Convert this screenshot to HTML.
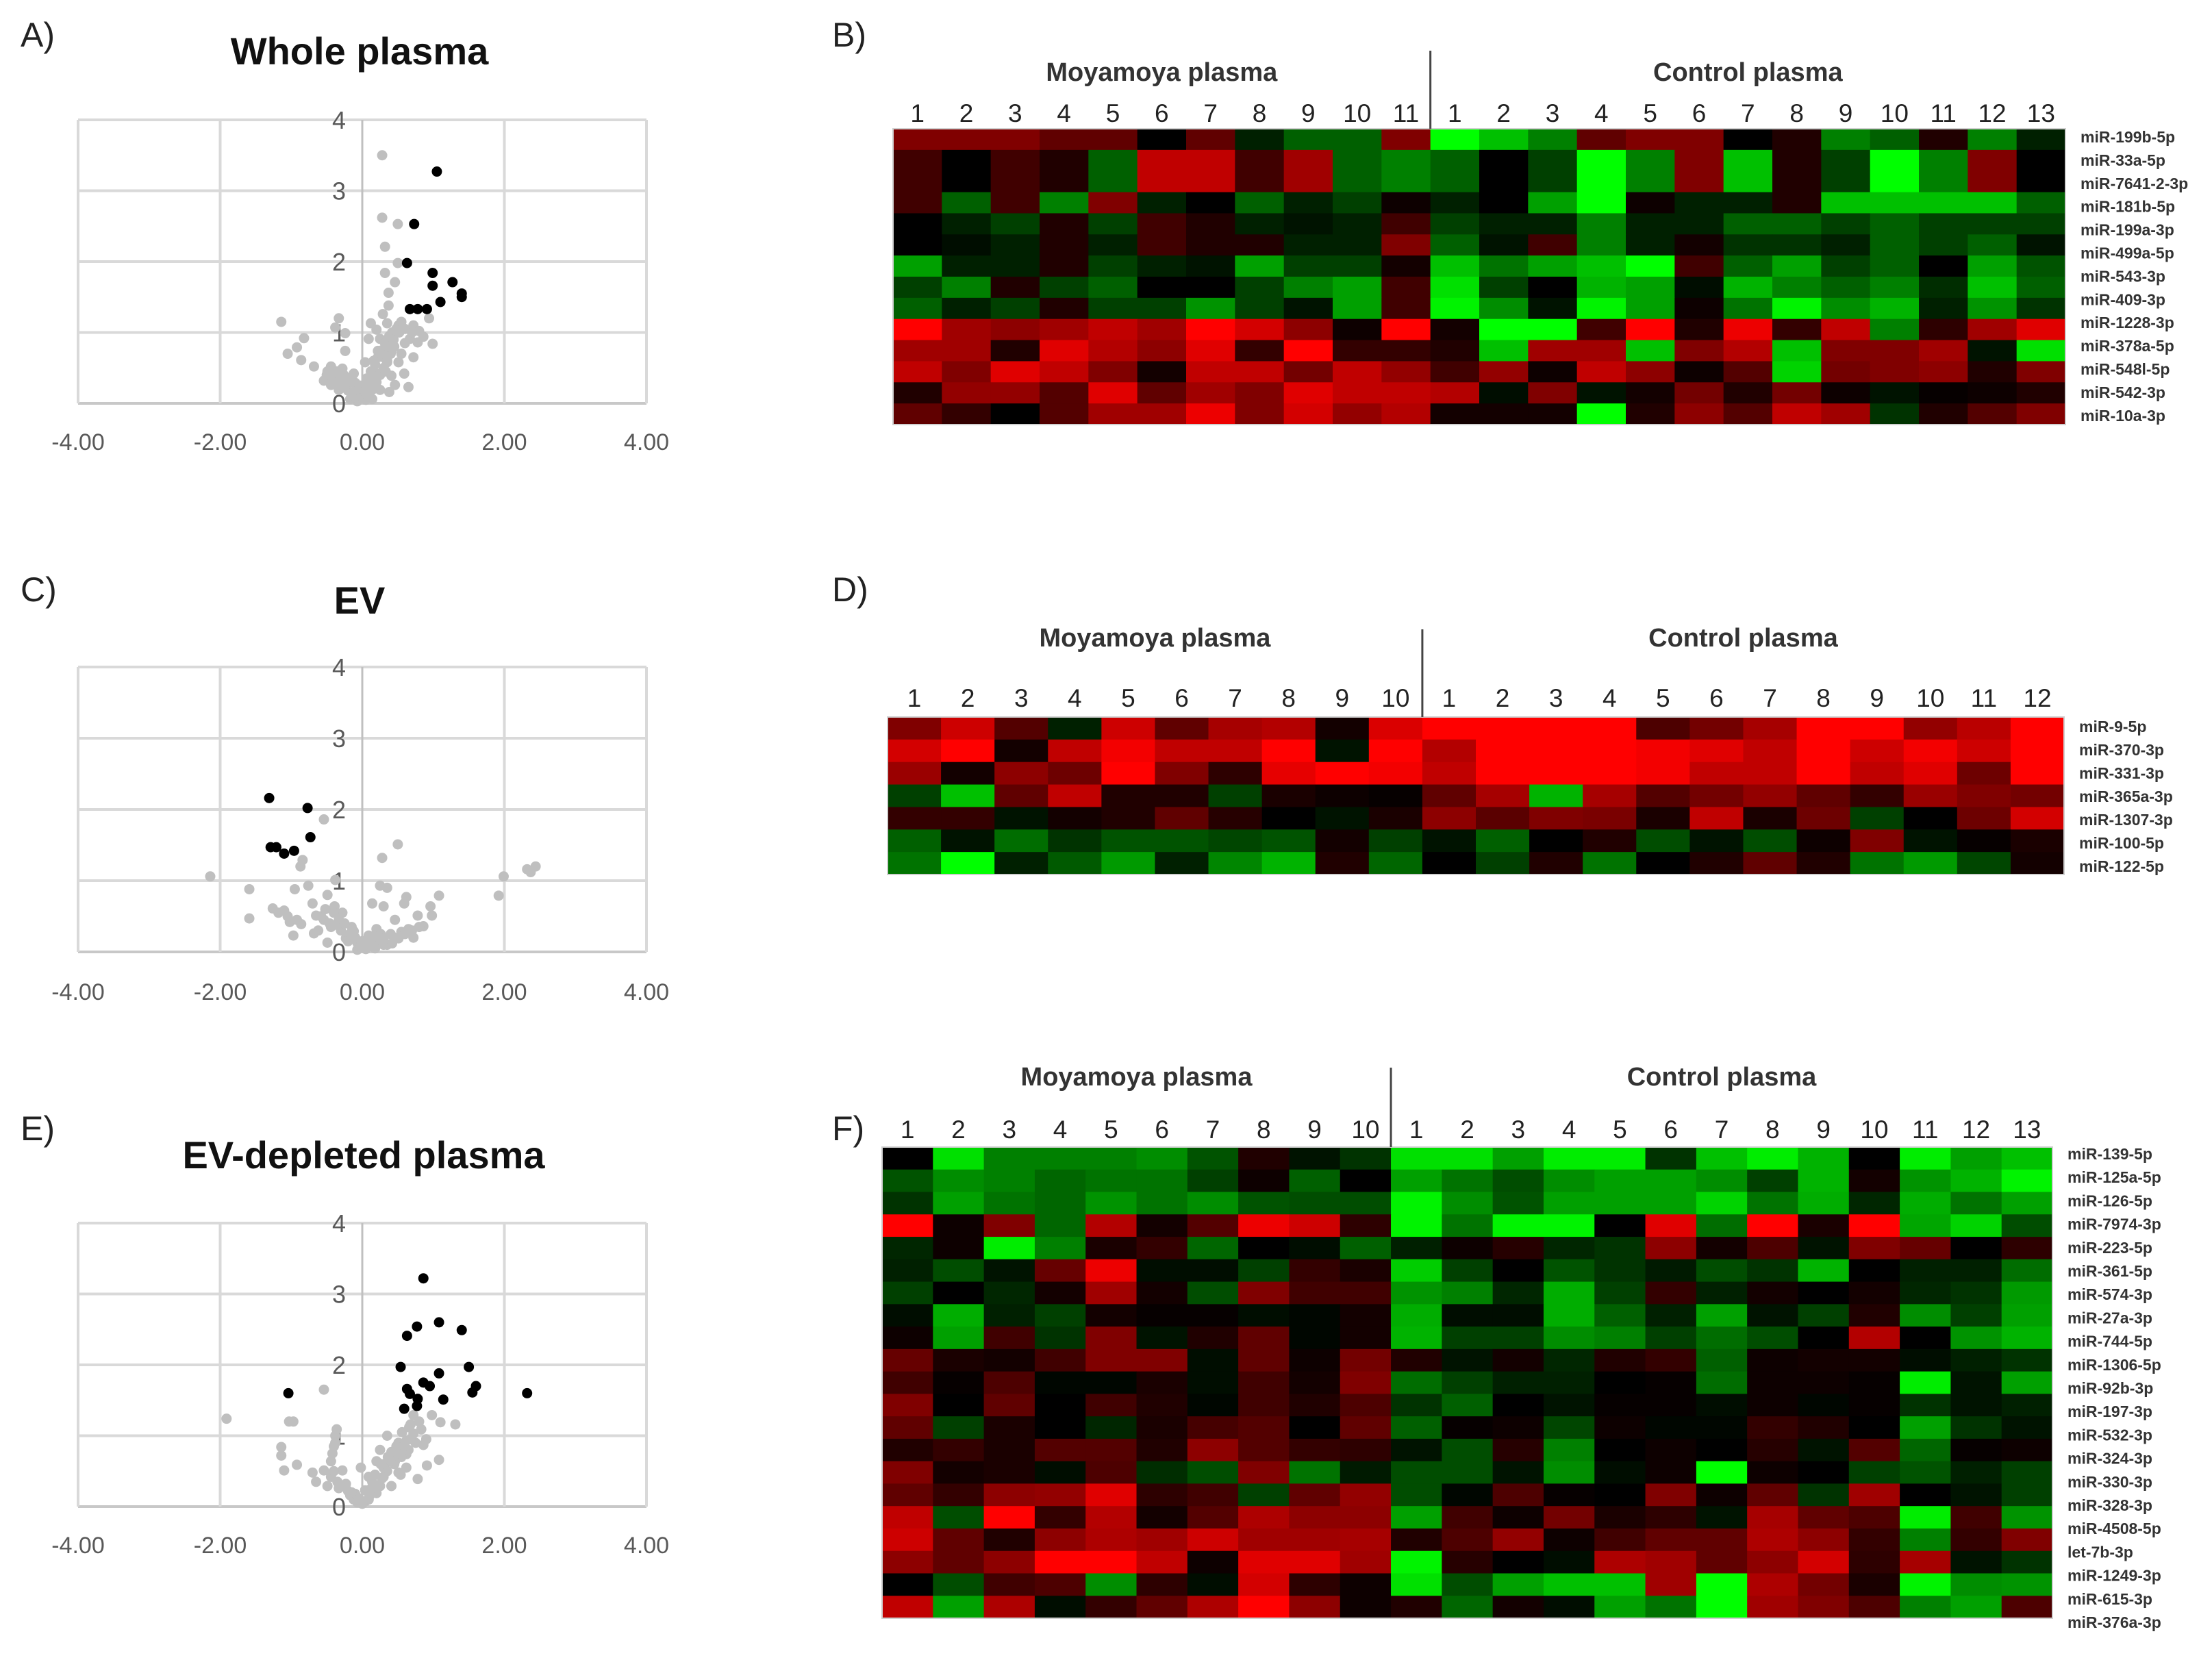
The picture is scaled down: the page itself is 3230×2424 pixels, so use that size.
<!DOCTYPE html>
<html><head><meta charset="utf-8">
<style>
html,body{margin:0;padding:0;background:#fff;}
svg{display:block;font-family:"Liberation Sans",sans-serif;}
</style></head>
<body>
<svg id="fig" xmlns="http://www.w3.org/2000/svg" width="3230" height="2424" viewBox="0 0 3230 2424">
<rect width="3230" height="2424" fill="#fff"/>
<g font-size="50" fill="#222">
<text x="30" y="68">A)</text>
<text x="1215" y="68">B)</text>
<text x="30" y="878">C)</text>
<text x="1215" y="878">D)</text>
<text x="30" y="1665">E)</text>
<text x="1215" y="1665">F)</text>
</g>
<g font-size="56" font-weight="bold" fill="#111" text-anchor="middle">
<text x="525" y="94">Whole plasma</text>
<text x="525" y="896">EV</text>
<text x="531" y="1706">EV-depleted plasma</text>
</g>
</svg>
<script>
// ---------- Volcano data (x = log2 fold change, y = -log10 p) ----------
const aSigX=[1.05,0.73,0.63,0.99,0.99,1.27,1.40,1.40,1.10,0.67,0.78,0.91];
const aSigY=[3.27,2.53,1.98,1.84,1.66,1.71,1.55,1.50,1.43,1.33,1.33,1.33];
const aNsX=[.28,.28,.50,.32,.50,.32,.46,.37,.37,-1.14,-0.82,-0.92,-1.05,-0.86,-0.68,-0.33,-0.38,-0.24,-0.24,.94,.99,.86,.72,.65,.72,.59,.51,.29,.12,.09,.25,.41,.35,.2,.09,-.02,-.07,-.12,-.23,-.44,-.54,-.49,-.33,.14,.25,.46,.41,.30,.51,.67,.78,.2,.35,.22,.04,-.12,-.28,-.44,-.17,.04,.14,.33,.38,-.1,
 .05,.1,.15,.2,.25,.3,.35,.4,.45,.55,.6,-.05,-.1,-.15,-.2,-.25,-.3,-.35,-.4,-.45,-.5,.02,.08,.12,.18,.22,.28,.32,.38,.42,.48,.55,-.03,-.08,-.14,-.19,-.26,-.31,-.36,.06,.16,.26,.36,.44,.52,.6,.7,.8];
const aNsY=[3.5,2.62,2.53,2.21,1.98,1.84,1.71,1.56,1.38,1.15,0.92,0.79,0.70,0.61,0.52,1.2,1.07,0.99,0.74,1.2,0.84,0.94,1.1,0.23,.65,.42,1.1,1.26,1.13,.91,.91,.74,.58,.42,.26,.1,.03,.16,.26,.52,.32,.45,.19,.06,.19,.26,.39,.65,.58,.91,.86,1.04,1.13,.74,.58,.42,.49,.26,.06,.13,.32,.45,.16,.29,
 .05,.12,.2,.3,.4,.5,.6,.7,.8,.7,.85,.05,.1,.12,.18,.22,.3,.35,.3,.38,.4,.2,.3,.45,.55,.65,.75,.85,.95,1.0,1.05,1.15,.25,.2,.3,.35,.4,.35,.45,.35,.6,.7,.8,.9,1.0,1.05,1.0,1.02];
const cSigX=[-1.31,-0.77,-0.73,-1.29,-1.21,-1.10,-0.96];
const cSigY=[2.16,2.02,1.61,1.47,1.47,1.38,1.42];
const cNsX=[-.54,.50,.28,-.84,-.87,-2.14,1.99,2.32,2.44,2.37,1.92,-1.59,-1.59,-.95,-.76,-.38,-.49,.25,.35,.62,1.08,.96,.98,.78,.86,.59,.3,.14,-1.26,-1.1,-1.02,-.86,-.97,-.7,-.68,-.54,-.39,-.28,-.44,-.23,-.07,.04,.2,.35,.51,.65,.46,.2,-.12,-.33,.09,-.07,-.49,-.65,
 -.02,.06,.12,-.1,-.18,.16,.26,.4,.55,.7,.8,-.3,-.36,-.46,-.58,-.62,-.2,.0,.1,.3,.45,.6,.72,-.15,-.25,-.4,-.52,-1.18,-1.05,-.92,.05,.18,.3,.42];
const cNsY=[1.86,1.51,1.32,1.29,1.2,1.06,1.06,1.16,1.2,1.12,.79,.88,.47,.88,.93,1.01,.8,.93,.9,.77,.79,.64,.51,.51,.36,.68,.64,.68,.61,.58,.42,.39,.23,.68,.26,.45,.64,.55,.35,.19,.03,.06,.13,.1,.19,.32,.45,.32,.29,.45,.23,.13,.13,.51,
 .08,.1,.15,.2,.25,.22,.25,.25,.28,.3,.35,.3,.38,.4,.5,.3,.15,.15,.18,.18,.2,.25,.2,.35,.4,.55,.6,.55,.5,.45,.04,.05,.1,.12];
const eSigX=[.86,1.08,.77,.63,1.40,.54,1.5,1.08,.86,.95,.63,.67,1.6,1.55,-1.04,2.32,.78,1.14,.77,.59];
const eSigY=[3.22,2.6,2.54,2.41,2.49,1.97,1.97,1.88,1.75,1.7,1.66,1.59,1.7,1.61,1.6,1.6,1.52,1.51,1.42,1.38];
const eNsX=[-.54,-1.91,-1.03,-.97,-1.14,-1.14,-.92,-1.1,.72,.98,1.1,1.31,.68,.83,1.08,.86,.91,.78,.62,.51,.35,.25,.2,.09,.04,-.07,-.17,-.33,-.44,-.44,-.38,-.36,-.28,-.7,-.54,-.65,-.49,-.23,.41,.51,.46,.62,.3,.2,.14,.41,.62,.72,.33,-.12,.09,.25,-.02,
 .05,.1,.15,.22,.28,.35,.45,.55,.65,.75,.3,.4,.5,.58,.68,-.05,-.1,-.15,-.2,-.3,-.35,-.4,-.42,-.4,-.38,.0,.12,.18,.26,.36,.48,.56,.66,.8,.9,.54];
const eNsY=[1.65,1.24,1.2,1.2,.84,.72,.59,.51,1.29,1.29,1.19,1.16,1.16,1.09,.66,.87,.58,.39,.74,.9,1.0,.8,.64,.42,.23,.06,.16,.26,.42,.64,.9,1.09,.51,.48,.51,.35,.29,.32,.29,.48,.64,.55,.42,.19,.35,.77,.93,1.03,.61,.1,.1,.29,.55,
 .08,.15,.22,.3,.4,.5,.6,.7,.8,.9,.55,.65,.75,.85,.95,.12,.18,.2,.22,.3,.35,.5,.75,.85,1.0,.04,.25,.45,.6,.7,.85,1.05,1.12,1.2,.95,.45];
const xTicks=[-4,-2,0,2,4];
const xTickLabels=["-4.00","-2.00","0.00","2.00","4.00"];
const yTicks=[0,1,2,3,4];

const NS="http://www.w3.org/2000/svg";
const svg=document.getElementById('fig');
function mk(tag,attrs,parent){const e=document.createElementNS(NS,tag);for(const k in attrs)e.setAttribute(k,attrs[k]);(parent||svg).appendChild(e);return e;}

function volcano(id,y0,y4,labY,sx,sy,nx,ny){
  const g=mk('g',{});
  
  
  const x0=114,x1=944;
  const X=v=>x0+(v+4)/8*(x1-x0);
  const Y=v=>y0+(y4-y0)*v/4;
  yTicks.forEach(t=>{
    const l=mk('line',{x1:x0,x2:x1,y1:Y(t),y2:Y(t),stroke:t===0?'#c8c8c8':'#d9d9d9','stroke-width':4},g);
    
    
  });
  xTicks.forEach(t=>{
    const l=mk('line',{x1:X(t),x2:X(t),y1:Y(4),y2:Y(0),stroke:t===0?'#c0c0c0':'#d9d9d9','stroke-width':t===0?3:4},g);
    
    
  });
  xTicks.forEach((t,i)=>{
    const tx=mk('text',{x:X(t),y:labY,'font-size':34,fill:'#595959','text-anchor':'middle'},g);
    tx.textContent=xTickLabels[i];
    
    
  });
  yTicks.forEach(t=>{
    const tx=mk('text',{x:X(0)-34,y:Y(t)+13,'font-size':36,fill:'#595959','text-anchor':'middle'},g);
    tx.textContent=String(t);
    
    
  });
  nx.forEach((v,i)=>{
    const c=mk('circle',{cx:X(v),cy:Y(ny[i]),r:7.5,fill:'#bfbfbf'},g);
    
    
  });
  sx.forEach((v,i)=>{
    const c=mk('circle',{cx:X(v),cy:Y(sy[i]),r:7.5,fill:'#000'},g);
    
    
  });
}
volcano('whole-plasma',589,175,657,aSigX,aSigY,aNsX,aNsY);
volcano('ev',1390,974,1460,cSigX,cSigY,cNsX,cNsY);
volcano('ev-depleted',2200,1786,2268,eSigX,eSigY,eNsX,eNsY);

// ---------- Heatmap data ----------
const bRows=["miR-199b-5p","miR-33a-5p","miR-7641-2-3p","miR-181b-5p","miR-199a-3p","miR-499a-5p","miR-543-3p","miR-409-3p","miR-1228-3p","miR-378a-5p","miR-548l-5p","miR-542-3p","miR-10a-3p"];
const bVals=[
[2,2,2,1.5,1.5,0,1.5,-0.5,-1.5,-1.5,2,-4,-3,-2,1.5,2,2,0,0.5,-2,-1.5,0.5,-2,-0.5],
[1,0,1,0.5,-1.5,3,3,1,2.5,-1.5,-2,-1.5,0,-1,-4,-2,2,-3,0.5,-1,-4,-2,2,0],
[1,0,1,0.5,-1.5,3,3,1,2.5,-1.5,-2,-1.5,0,-1,-4,-2,2,-3,0.5,-1,-4,-2,2,0],
[1,-1.5,1,-2,2,-0.5,0,-1.5,-0.5,-1,0.2,-0.5,0,-2.5,-4,0.2,-0.5,-0.5,0.5,-3,-3,-3,-3,-1.5],
[0,-0.5,-1,0.5,-1,1,0.5,-0.5,-0.3,-0.5,1,-1,-0.5,-0.5,-2,-0.5,-0.5,-1.5,-1.5,-1,-1.5,-1,-1,-1],
[0,-0.2,-0.5,0.5,-0.5,1,0.5,0.5,-0.5,-0.5,2,-1.5,-0.3,1,-2,-0.5,0.3,-0.8,-0.8,-0.5,-1.5,-1,-1.5,-0.3],
[-2.5,-0.5,-0.5,0.5,-1,-0.5,-0.3,-2.5,-1,-1,0.3,-3,-1.8,-2.5,-3,-4,1,-1.5,-2.5,-1,-1.5,0,-2.5,-1.3],
[-1,-2,0.5,-1,-1.5,0,0,-1,-2,-2.5,1,-3.5,-1,0,-2.8,-2.5,-0.2,-2.8,-2,-1.5,-2,-0.7,-3,-1.5],
[-1.5,-0.5,-1,0.5,-1,-1,-2.3,-1,-0.3,-2.5,1,-3.8,-2.2,-0.3,-3.8,-2.5,0.2,-1.8,-3.8,-2.2,-2.8,-0.5,-2.3,-0.8],
[4,2.5,2.2,2.5,3,2.5,4,3.3,2.2,0.2,4,0.3,-4,-4,1,4,0.5,3.7,0.8,3,-2,0.7,2.5,3.5],
[2.5,2.5,0.5,3.5,2.8,2.2,3.5,0.8,4,0.8,0.8,0.5,-3,2.5,2.5,-3,2,2.8,-3,2,2,2.5,-0.3,-3.5],
[3,2,3.5,3,2,0.3,3,3,1.8,3,2.3,1,2.3,0.2,3,2.2,0.2,1.3,-3.3,1.8,2,2.2,0.5,2],
[0.5,2.3,2.3,1.3,3.5,1.5,2.5,2,3.5,3,3,2.8,-0.2,2,-0.3,0.3,1.8,0.5,1.8,0.2,-0.3,0.1,0.2,0.5],
[1.5,0.8,0,1.3,2.5,2.5,3.7,2,3.3,2.3,2.8,0.3,0.3,0.3,-4,0.5,2.2,1.3,3,2.5,-0.8,0.5,1.3,2]
];
const dRows=["miR-9-5p","miR-370-3p","miR-331-3p","miR-365a-3p","miR-1307-3p","miR-100-5p","miR-122-5p"];
const dVals=[
[2,3.2,1.3,-0.5,3.2,1.5,2.6,2.8,0.3,3.4,4,4,4,4,1.2,1.8,2.6,4,4,2.3,2.9,4],
[3.3,4,0.3,3,3.8,3,3,4,-0.3,4,2.8,4,4,4,3.8,3.5,3,4,3.2,3.8,3.2,4],
[2.4,0.3,2.2,1.7,4,2,0.7,3.6,4,3.8,3,4,4,4,3.8,3,3,4,3,3.5,1.7,4],
[-1,-3,1.5,3,0.5,0.5,-1,0.4,0.2,0.1,1.5,2.6,-2.8,2.6,1.3,1.8,2.3,1.5,0.8,2.4,2,1.8],
[0.8,0.8,-0.3,0.3,0.5,1.5,0.6,0,-0.3,0.4,2.2,1.4,2,1.9,0.4,3,0.4,1.7,-1,0,1.7,3.3],
[-1.5,-0.3,-1.7,-0.8,-1.3,-1.3,-1.1,-1.3,0.3,-1,-0.3,-1.5,0,0.5,-1.2,-0.3,-1.2,0.2,2,-0.3,0.1,0.4],
[-1.8,-4,-0.5,-1.4,-2.4,-0.5,-2.1,-2.8,0.5,-1.6,0,-1,0.5,-1.8,0,0.5,1.5,0.5,-1.8,-2.4,-1.1,0.3]
];
const fRows=["miR-139-5p","miR-125a-5p","miR-126-5p","miR-7974-3p","miR-223-5p","miR-361-5p","miR-574-3p","miR-27a-3p","miR-744-5p","miR-1306-5p","miR-92b-3p","miR-197-3p","miR-532-3p","miR-324-3p","miR-330-3p","miR-328-3p","miR-4508-5p","let-7b-3p","miR-1249-3p","miR-615-3p","miR-376a-3p"];
const fVals=[
[0,-3.5,-2,-2,-2,-2.2,-1.3,0.5,-0.3,-0.8,-3.5,-3.5,-2.5,-3.7,-3.7,-0.8,-3,-3.7,-2.8,0,-3.7,-2.5,-3],
[-1.3,-2.2,-2,-1.6,-1.8,-1.8,-1,0.2,-1.5,0,-2.5,-1.8,-1.2,-2.2,-2.5,-2.5,-2.2,-1,-2.8,0.3,-2.3,-2.8,-3.8],
[-0.8,-2.5,-1.8,-1.6,-2.3,-1.8,-2.2,-1.3,-1.2,-1.2,-3.8,-2.2,-1.3,-2.5,-2.5,-2.5,-3.3,-1.8,-2.7,-0.6,-2.7,-1.8,-2.5],
[4,0.2,2,-1.6,2.8,0.3,1.3,3.7,3.2,0.7,-3.8,-1.8,-3.8,-3.8,0,3.5,-1.7,4,0.4,4,-2.6,-3.3,-1.2],
[-0.6,0.2,-3.7,-2,0.4,0.8,-1.6,0,-0.2,-1.5,-0.5,0.2,0.6,-0.6,-0.8,2.2,0.3,1.2,-0.3,2,1.6,0,0.7],
[-0.5,-1.2,-0.3,1.6,3.7,-0.2,-0.2,-1,0.8,0.4,-3.2,-1,0,-1.3,-0.8,-0.4,-1.2,-0.8,-2.8,0,-0.5,-0.5,-1.7],
[-1,0,-0.6,0.3,2.5,0.3,-1.2,2,1,1,-2.3,-2,-0.6,-2.7,-1,0.8,-0.5,0.3,0,0.3,-0.6,-0.8,-2.4],
[-0.2,-2.7,-0.5,-1,0.3,0.1,0.1,-0.2,-0.1,0.3,-2.7,-0.2,-0.2,-2.7,-1.5,-0.5,-2.5,-0.3,-1,0.5,-2.2,-1,-2.5],
[0.2,-2.5,1,-0.8,2,-0.3,0.5,1.5,-0.1,0.3,-2.8,-1,-1,-2.2,-2,-1,-1.7,-1.2,0,2.8,0,-2.3,-2.8],
[1.6,0.4,0.3,1,2,2,-0.2,1.5,0.2,1.8,0.5,-0.3,0.3,-0.6,0.5,0.8,-1.5,0.2,0.3,0.3,-0.2,-0.5,-0.8],
[1,0.1,1.2,-0.1,-0.1,0.4,-0.2,1,0.3,2,-1.7,-1,-0.5,-0.5,0,0.1,-1.7,0.2,0.2,0.1,-3.7,-0.3,-2.5],
[2,0,1.5,0,1,0.5,-0.1,1,0.5,1.2,-0.8,-1.5,0,-0.3,0.1,0.1,-0.2,0.2,-0.1,0.1,-0.8,-0.3,-0.5],
[1.5,-1,0.4,0,-0.6,0.4,1.1,1.3,0,1.5,-1.5,0.1,0.2,-1.1,0.2,-0.1,-0.1,0.8,0.5,0,-2.5,-0.8,-0.3],
[0.5,0.8,0.4,1.3,1.3,0.5,2.2,1.3,0.8,0.7,-0.3,-1.2,0.6,-2,0,0.2,0,0.6,-0.3,1.3,-1.6,0.1,0.2],
[2,0.3,0.4,-0.2,1.2,-0.7,-1.2,2,-1.8,-0.4,-1.2,-1.2,-0.3,-2.2,-0.2,0.2,-4,0.2,0,-1,-1.3,-0.5,-1],
[1.5,0.8,2.2,2.3,3.5,0.7,1,-1,1.5,2.3,-1.2,-0.1,1.2,0.1,0,2,0.2,1.5,-0.8,2.5,0,-0.3,-1],
[3,-1.2,4,0.8,2.8,0.3,1.3,2.7,2.2,2.2,-2.5,1,0.2,1.8,0.4,0.7,-0.3,2.6,1.5,1.2,-3.7,1,-2.3],
[3.2,1.5,0.5,2.2,2.7,2.5,3.2,2.5,2.5,2.6,0.5,1.2,2.3,0.2,1,1.5,1.5,2.7,2.2,0.8,-2,0.8,2],
[2.2,1.5,2.2,4,4,3,0.2,3.5,3.5,2.5,-3.8,0.6,0,-0.2,2.7,2.5,1.5,2.2,3.3,0.7,2.6,-0.3,-0.8],
[0,-1.2,1,1.2,-2.2,0.7,-0.2,3.3,0.7,0.2,-3.5,-1.2,-2.5,-3,-3,2.5,-4,2.7,1.8,0.4,-3.8,-2.2,-2.3],
[3,-2.5,2.7,-0.2,0.8,1.5,2.7,4,2.2,0.2,0.5,-1.6,0.3,-0.2,-2.5,-1.8,-4,2.5,2,1.2,-2,-2.5,1.2]
];
const bGroups=[11,13], dGroups=[10,12], fGroups=[10,13];

function col(v){const k=Math.min(255,Math.round(Math.abs(v)*64));return v>=0?`rgb(${k},0,0)`:`rgb(0,${k},0)`;}

function heatmap(id,vals,rows,groups,x0,x1,y0,y1,numY,hdrY,divTop,labY0,labDy){
  const g=mk('g',{});
  
  
  const nc=groups[0]+groups[1], nr=vals.length;
  const cw=(x1-x0)/nc, rh=(y1-y0)/nr;
  vals.forEach((row,r)=>row.forEach((v,c)=>{
    const cell=mk('rect',{x:x0+c*cw,y:y0+r*rh,width:cw+0.6,height:rh+0.6,fill:col(v)},g);
    
    
  }));
  const fr=mk('rect',{x:x0,y:y0,width:x1-x0,height:y1-y0,fill:'none',stroke:'#d0d0d0','stroke-width':2},g);
  
  
  for(let c=0;c<nc;c++){
    const n=c<groups[0]?c+1:c-groups[0]+1;
    const t=mk('text',{x:x0+(c+0.5)*cw,y:numY,'font-size':37,fill:'#222','text-anchor':'middle'},g);
    t.textContent=String(n);
    
    
  }
  const xd=x0+groups[0]*cw;
  const dl=mk('line',{x1:xd,x2:xd,y1:divTop,y2:y0,stroke:'#444','stroke-width':3},g);
  
  
  const h1=mk('text',{x:x0+groups[0]*cw/2,y:hdrY,'font-size':38,'font-weight':'bold',fill:'#333','text-anchor':'middle'},g);
  h1.textContent='Moyamoya plasma';
  
  
  const h2=mk('text',{x:xd+groups[1]*cw/2,y:hdrY,'font-size':38,'font-weight':'bold',fill:'#333','text-anchor':'middle'},g);
  h2.textContent='Control plasma';
  
  
  rows.forEach((name,i)=>{
    const t=mk('text',{x:x1+22,y:labY0+i*labDy,'font-size':23,'font-weight':'bold',fill:'#333'},g);
    t.textContent=name;
    
    
  });
}
heatmap('whole-plasma',bVals,bRows,bGroups,1304,3016,188,620,178,118,74,208,33.9);
heatmap('ev',dVals,dRows,dGroups,1296,3014,1047,1277,1032,944,919,1069,34);
heatmap('ev-depleted',fVals,fRows,fGroups,1288,2997,1675,2363,1662,1585,1559,1693,34.2);
</script>
</body></html>
